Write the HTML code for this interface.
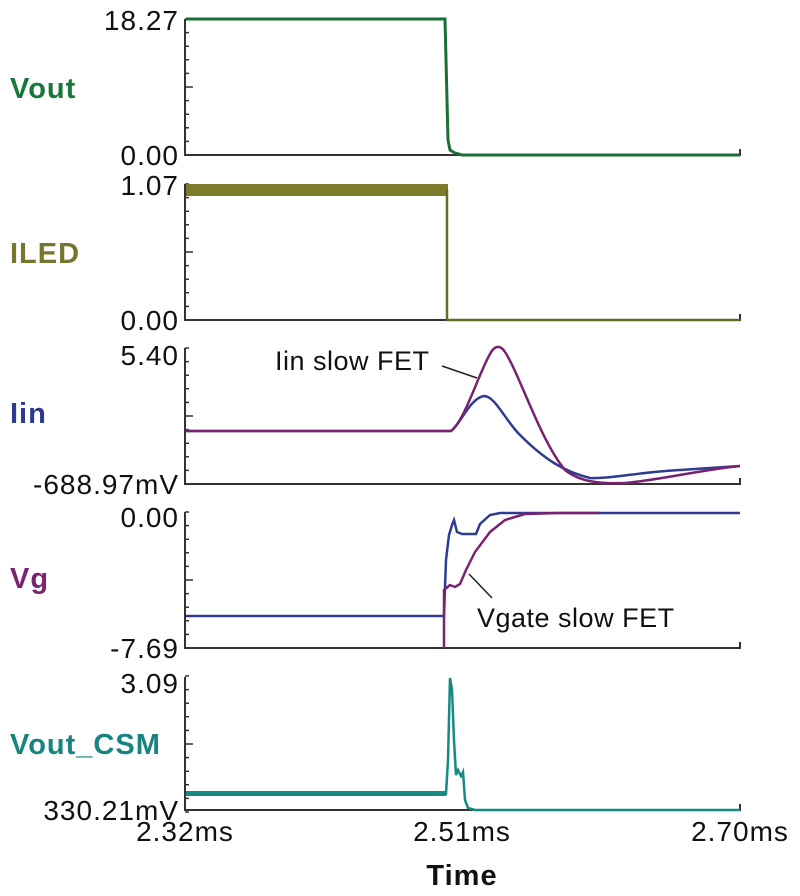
<!DOCTYPE html>
<html><head><style>
body{margin:0;background:#fff;}
svg{display:block;font-family:"Liberation Sans",sans-serif;}
.ax{stroke:#333;stroke-width:2;fill:none}
.tk{stroke:#333;stroke-width:1.5}
.yl{font-size:28px;fill:#111;text-anchor:end;letter-spacing:1px}
.nm{font-size:29px;font-weight:bold;letter-spacing:1px}
</style></head><body>
<svg width="800" height="896" viewBox="0 0 800 896">
<defs>
<g id="ticks">
<path class="tk" d="M185,0h4M185,13.6h4M185,27.2h4M185,40.8h4M185,54.4h4M185,68h8M185,81.6h4M185,95.2h4M185,108.8h4M185,122.4h4M185,136h4"/>
</g>
</defs>
<g>
<path class="ax" d="M185,19V155H740V149"/><use href="#ticks" y="19"/>
<path class="ax" d="M185,184V320H740V314"/><use href="#ticks" y="184"/>
<path class="ax" d="M185,348V484H740V478"/><use href="#ticks" y="348"/>
<path class="ax" d="M185,512V648H740V642"/><use href="#ticks" y="512"/>
<path class="ax" d="M185,677V810H740V804"/><use href="#ticks" y="676"/>
</g>
<text class="yl" x="179" y="30">18.27</text><text class="yl" x="179" y="165">0.00</text>
<text class="yl" x="179" y="195">1.07</text><text class="yl" x="179" y="330">0.00</text>
<text class="yl" x="179" y="365">5.40</text><text class="yl" x="179" y="494">-688.97mV</text>
<text class="yl" x="179" y="527">0.00</text><text class="yl" x="179" y="658">-7.69</text>
<text class="yl" x="179" y="693">3.09</text><text class="yl" x="179" y="820">330.21mV</text>
<text class="nm" x="10" y="98" fill="#16783a">Vout</text>
<text class="nm" x="10" y="263" fill="#76762c">ILED</text>
<text class="nm" x="10" y="423" fill="#2e3a8c">Iin</text>
<text class="nm" x="10" y="588" fill="#7a2470">Vg</text>
<text class="nm" x="10" y="754" fill="#17847f">Vout_CSM</text>
<path d="M186,19H445L447,100L448,140L450,150L455,153L462,155H740" stroke="#1a6e36" stroke-width="3" fill="none"/>
<rect x="186" y="184" width="262" height="12" fill="#7c7c2c"/>
<path d="M447,190V320H740" stroke="#6a6a28" stroke-width="2.5" fill="none"/>
<path d="M186,431H451C460,425 470,398 484,396C495,396 505,420 520,435C545,460 565,472 590,478C610,479 640,472 680,470C710,468 725,467 740,466" stroke="#2e3c92" stroke-width="2.5" fill="none"/>
<path d="M186,431H451C465,420 478,375 490,354C494,346 500,344 505,352C520,375 540,440 565,470C580,482 600,484 625,483C660,480 700,470 740,466" stroke="#7a2272" stroke-width="2.5" fill="none"/>
<path d="M442,366L477,378" stroke="#222" stroke-width="1.5"/>
<text x="275" y="370" font-size="27" fill="#111" letter-spacing="0.5">Iin slow FET</text>
<path d="M186,616H444L446,560L449,535L452,525L454,520L457,532L462,534H476L480,524L490,515L500,513H740" stroke="#2e3c92" stroke-width="2.5" fill="none"/>
<path d="M444,648V590L450,585L455,587L460,584L466,570L475,552L490,532L505,520L525,514L560,513H600" stroke="#7a2272" stroke-width="2.5" fill="none"/>
<path d="M492,598L469,574" stroke="#222" stroke-width="1.5"/>
<text x="477" y="627" font-size="27" fill="#111" letter-spacing="0.5">Vgate slow FET</text>
<rect x="186" y="791" width="260" height="5" fill="#1a8a84"/>
<path d="M186,794H446L448,760L450,678L452,690L454,740L456,775L458,770L461,776L463,772L465,800L468,808L475,810H740" stroke="#168a84" stroke-width="2.5" fill="none"/>
<g font-size="28" fill="#111" text-anchor="middle" letter-spacing="1">
<text x="185" y="841">2.32ms</text><text x="462" y="841">2.51ms</text><text x="740" y="841">2.70ms</text>
<text x="462" y="885" font-weight="bold" font-size="29">Time</text>
</g>
</svg>
</body></html>
